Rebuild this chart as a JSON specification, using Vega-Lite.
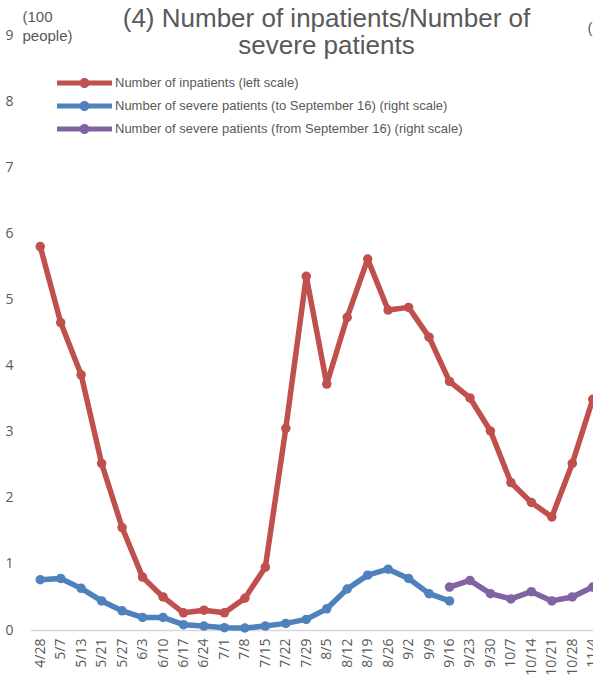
{
  "$schema": "https://vega.github.io/schema/vega-lite/v6.json",
  "autosize": "none",
  "width": 573,
  "height": 595,
  "padding": {"left": 30, "top": 35, "right": 0, "bottom": 47},
  "background": "white",
  "config": {"view": {"stroke": null}},
  "title": {
    "text": ["(4) Number of inpatients/Number of", "severe patients"],
    "font": "Liberation Sans",
    "fontSize": 26,
    "fontWeight": "normal",
    "color": "#595959",
    "anchor": "middle",
    "frame": "group",
    "lineHeight": 27,
    "dx": 10,
    "offset": -50
  },
  "data": {
    "values": [
      {"date": "4/28", "series": "Number of inpatients (left scale)", "value": 5.80},
      {"date": "5/7", "series": "Number of inpatients (left scale)", "value": 4.65},
      {"date": "5/13", "series": "Number of inpatients (left scale)", "value": 3.86},
      {"date": "5/21", "series": "Number of inpatients (left scale)", "value": 2.52},
      {"date": "5/27", "series": "Number of inpatients (left scale)", "value": 1.55},
      {"date": "6/3", "series": "Number of inpatients (left scale)", "value": 0.80},
      {"date": "6/10", "series": "Number of inpatients (left scale)", "value": 0.50},
      {"date": "6/17", "series": "Number of inpatients (left scale)", "value": 0.26},
      {"date": "6/24", "series": "Number of inpatients (left scale)", "value": 0.30},
      {"date": "7/1", "series": "Number of inpatients (left scale)", "value": 0.26},
      {"date": "7/8", "series": "Number of inpatients (left scale)", "value": 0.48},
      {"date": "7/15", "series": "Number of inpatients (left scale)", "value": 0.95},
      {"date": "7/22", "series": "Number of inpatients (left scale)", "value": 3.05},
      {"date": "7/29", "series": "Number of inpatients (left scale)", "value": 5.35},
      {"date": "8/5", "series": "Number of inpatients (left scale)", "value": 3.72},
      {"date": "8/12", "series": "Number of inpatients (left scale)", "value": 4.73},
      {"date": "8/19", "series": "Number of inpatients (left scale)", "value": 5.61},
      {"date": "8/26", "series": "Number of inpatients (left scale)", "value": 4.84},
      {"date": "9/2", "series": "Number of inpatients (left scale)", "value": 4.88},
      {"date": "9/9", "series": "Number of inpatients (left scale)", "value": 4.43},
      {"date": "9/16", "series": "Number of inpatients (left scale)", "value": 3.76},
      {"date": "9/23", "series": "Number of inpatients (left scale)", "value": 3.51},
      {"date": "9/30", "series": "Number of inpatients (left scale)", "value": 3.01},
      {"date": "10/7", "series": "Number of inpatients (left scale)", "value": 2.23},
      {"date": "10/14", "series": "Number of inpatients (left scale)", "value": 1.93},
      {"date": "10/21", "series": "Number of inpatients (left scale)", "value": 1.71},
      {"date": "10/28", "series": "Number of inpatients (left scale)", "value": 2.52},
      {"date": "11/4", "series": "Number of inpatients (left scale)", "value": 3.49},
      {"date": "4/28", "series": "Number of severe patients (to September 16) (right scale)", "value": 76},
      {"date": "5/7", "series": "Number of severe patients (to September 16) (right scale)", "value": 78},
      {"date": "5/13", "series": "Number of severe patients (to September 16) (right scale)", "value": 63},
      {"date": "5/21", "series": "Number of severe patients (to September 16) (right scale)", "value": 44},
      {"date": "5/27", "series": "Number of severe patients (to September 16) (right scale)", "value": 29},
      {"date": "6/3", "series": "Number of severe patients (to September 16) (right scale)", "value": 19},
      {"date": "6/10", "series": "Number of severe patients (to September 16) (right scale)", "value": 19},
      {"date": "6/17", "series": "Number of severe patients (to September 16) (right scale)", "value": 8},
      {"date": "6/24", "series": "Number of severe patients (to September 16) (right scale)", "value": 6},
      {"date": "7/1", "series": "Number of severe patients (to September 16) (right scale)", "value": 3.5},
      {"date": "7/8", "series": "Number of severe patients (to September 16) (right scale)", "value": 3},
      {"date": "7/15", "series": "Number of severe patients (to September 16) (right scale)", "value": 6},
      {"date": "7/22", "series": "Number of severe patients (to September 16) (right scale)", "value": 10},
      {"date": "7/29", "series": "Number of severe patients (to September 16) (right scale)", "value": 16},
      {"date": "8/5", "series": "Number of severe patients (to September 16) (right scale)", "value": 32},
      {"date": "8/12", "series": "Number of severe patients (to September 16) (right scale)", "value": 62},
      {"date": "8/19", "series": "Number of severe patients (to September 16) (right scale)", "value": 83},
      {"date": "8/26", "series": "Number of severe patients (to September 16) (right scale)", "value": 92},
      {"date": "9/2", "series": "Number of severe patients (to September 16) (right scale)", "value": 78},
      {"date": "9/9", "series": "Number of severe patients (to September 16) (right scale)", "value": 55},
      {"date": "9/16", "series": "Number of severe patients (to September 16) (right scale)", "value": 44},
      {"date": "9/16", "series": "Number of severe patients (from September 16) (right scale)", "value": 65},
      {"date": "9/23", "series": "Number of severe patients (from September 16) (right scale)", "value": 75},
      {"date": "9/30", "series": "Number of severe patients (from September 16) (right scale)", "value": 55},
      {"date": "10/7", "series": "Number of severe patients (from September 16) (right scale)", "value": 47},
      {"date": "10/14", "series": "Number of severe patients (from September 16) (right scale)", "value": 58},
      {"date": "10/21", "series": "Number of severe patients (from September 16) (right scale)", "value": 44},
      {"date": "10/28", "series": "Number of severe patients (from September 16) (right scale)", "value": 50},
      {"date": "11/4", "series": "Number of severe patients (from September 16) (right scale)", "value": 65}
    ]
  },
  "encoding": {
    "x": {
      "field": "date",
      "type": "ordinal",
      "sort": ["4/28","5/7","5/13","5/21","5/27","6/3","6/10","6/17","6/24","7/1","7/8","7/15","7/22","7/29","8/5","8/12","8/19","8/26","9/2","9/9","9/16","9/23","9/30","10/7","10/14","10/21","10/28","11/4"],
      "scale": {"type": "point", "padding": 0.5},
      "axis": {
        "title": null,
        "labelAngle": -90,
        "labelFont": "Open Sans",
        "labelFontSize": 14,
        "labelColor": "#595959",
        "labelPadding": 8,
        "labelOverlap": false,
        "labelBound": false,
        "ticks": false,
        "grid": false,
        "domainColor": "#d9d9d9",
        "domainWidth": 1.5
      }
    },
    "color": {
      "field": "series",
      "type": "nominal",
      "scale": {
        "domain": ["Number of inpatients (left scale)", "Number of severe patients (to September 16) (right scale)", "Number of severe patients (from September 16) (right scale)"],
        "range": ["#C0504D", "#4F81BD", "#8064A2"]
      },
      "legend": {
        "orient": "none",
        "legendX": 27,
        "legendY": 38,
        "title": null,
        "padding": 0,
        "symbolType": "M-1,-0.24L4.5,-0.24L4.5,0.24L-1,0.24Z M2.25,0A0.5,0.5,0,1,1,1.25,0A0.5,0.5,0,1,1,2.25,0Z",
        "symbolSize": 400,
        "symbolStrokeWidth": 0,
        "symbolOpacity": 1,
        "labelFont": "Liberation Sans",
        "labelFontSize": 13,
        "labelColor": "#595959",
        "labelLimit": 0,
        "labelOffset": 38,
        "rowPadding": 6,
        "encode": {
          "symbols": {
            "update": {
              "fill": {"scale": "color", "field": "value"},
              "stroke": {"value": "transparent"},
              "opacity": {"value": 1}
            }
          }
        }
      }
    }
  },
  "layer": [
    {
      "transform": [{"filter": {"field": "series", "equal": "Number of inpatients (left scale)"}}],
      "encoding": {
        "y": {
          "field": "value",
          "type": "quantitative",
          "scale": {"domain": [0, 9], "nice": false},
          "axis": {
            "orient": "left",
            "values": [0, 1, 2, 3, 4, 5, 6, 7, 8, 9],
            "domain": false,
            "ticks": false,
            "grid": false,
            "labelPadding": 17,
            "labelFont": "Open Sans",
            "labelFontSize": 14,
            "labelColor": "#595959",
            "title": ["(100", "people)"],
            "titleAngle": 0,
            "titleAlign": "left",
            "titleBaseline": "alphabetic",
            "titleX": -8,
            "titleY": -14,
            "titleFont": "Liberation Sans",
            "titleFontSize": 15,
            "titleFontWeight": "normal",
            "titleColor": "#595959",
            "titleLineHeight": 19
          }
        }
      },
      "layer": [
        {"mark": {"type": "line", "strokeWidth": 5.5, "strokeJoin": "round", "strokeCap": "round"}},
        {"mark": {"type": "point", "filled": true, "size": 90, "opacity": 1}}
      ]
    },
    {
      "transform": [{"filter": {"field": "series", "oneOf": ["Number of severe patients (to September 16) (right scale)", "Number of severe patients (from September 16) (right scale)"]}}],
      "encoding": {
        "y": {
          "field": "value",
          "type": "quantitative",
          "scale": {"domain": [0, 900], "nice": false},
          "axis": {
            "orient": "right",
            "values": [0, 100, 200, 300, 400, 500, 600, 700, 800, 900],
            "domain": false,
            "ticks": false,
            "grid": false,
            "labels": false,
            "title": "(people)",
            "titleAngle": 0,
            "titleAlign": "left",
            "titleBaseline": "middle",
            "titleX": -16,
            "titleY": -8,
            "titleFont": "Liberation Sans",
            "titleFontSize": 15,
            "titleFontWeight": "normal",
            "titleColor": "#595959"
          }
        }
      },
      "layer": [
        {"mark": {"type": "line", "strokeWidth": 5.5, "strokeJoin": "round", "strokeCap": "round"}},
        {"mark": {"type": "point", "filled": true, "size": 90, "opacity": 1}}
      ]
    }
  ],
  "resolve": {"scale": {"y": "independent"}}
}
